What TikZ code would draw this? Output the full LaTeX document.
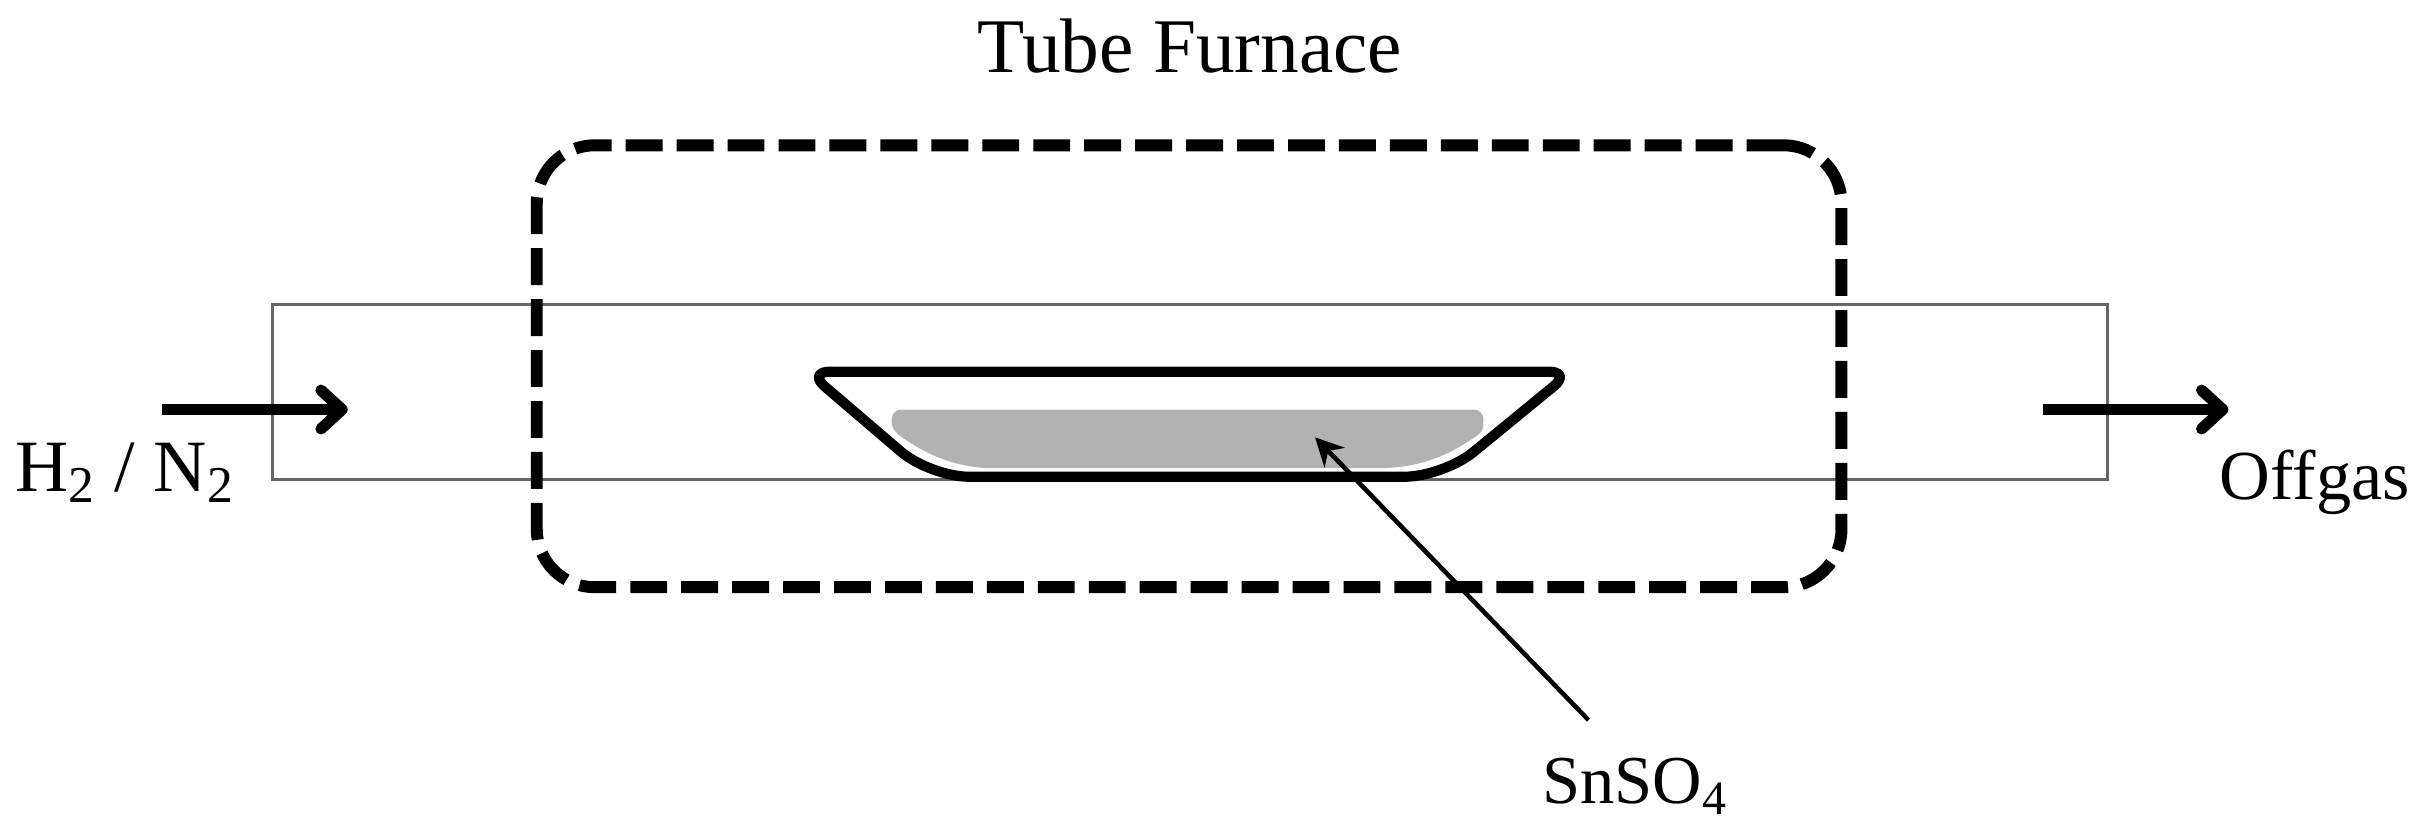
\documentclass[tikz,border=0pt]{standalone}
\usepackage{fontspec}
\setmainfont{Liberation Serif}
\usetikzlibrary{arrows.meta}

\tikzset{
    furnace/.style={draw,line width=3.4pt,rounded corners=16.5pt,dash pattern=on 10.5pt off 4pt,minimum width=13.05cm,minimum height=4.42cm},
    tube/.style={draw=black!60,line width=0.85pt,minimum width=18.35cm,minimum height=1.75cm},
    flow/.style={line width=3.2pt,-{Straight Barb[length=6pt,width=11pt,round]}},
    pointer/.style={line width=1.3pt,-{Stealth[length=8pt,width=8pt]}},
    caption/.style={font=\fontsize{#1}{28}\selectfont}
}

\begin{document}
\begin{tikzpicture}[x=0.01545cm,y=-0.01545cm]
    \useasboundingbox (0,0) rectangle (1568,541);
    \node[tube] (tube) at (770,253.5) {};
    \node[furnace] (furnace) at (769.5,237) {};
    % boat and its charge
    \fill[black!30] (584,265) -- (953,265) .. controls (958,265) and (960,268) .. (960,272) .. controls (960,276) and (960,278) .. (957,281) .. controls (935,297) and (915,303) .. (891,303) -- (643,303) .. controls (620,303) and (600,295) .. (581,281) .. controls (578,278) and (577,276) .. (577,272) .. controls (577,268) and (579,265) .. (584,265) -- cycle;
    \draw[line width=2.9pt,line join=round,rounded corners=6.5pt] (522.5,240.5) -- (1017,240.5) [rounded corners=11pt] -- (934,308.5) -- (602,308.5) [rounded corners=6.5pt] -- cycle;
    \node[caption=22] (title) at (770,30) {Tube Furnace};
    \node[caption=21] (feed) at (81,306) {H\textsubscript{2} / N\textsubscript{2}};
    \node[caption=20] (offgas) at (1498,312) {Offgas};
    \node[caption=19.5] (salt) at (1058,509) {SnSO\textsubscript{4}};
    \coordinate (in1) at (105,265);
    \coordinate (in2) at (225,265);
    \coordinate (out1) at (1322,265);
    \coordinate (out2) at (1442,265);
    \coordinate (tail) at (1028,466);
    \coordinate (head) at (851,283);
    \draw[flow] (in1) -- (in2);
    \draw[flow] (out1) -- (out2);
    \draw[pointer] (tail) -- (head);
\end{tikzpicture}
\end{document}
